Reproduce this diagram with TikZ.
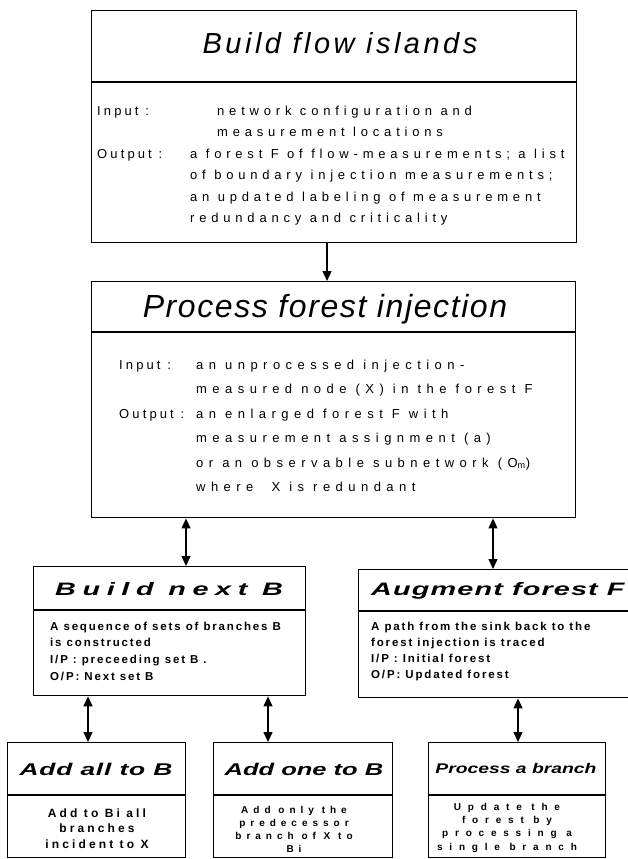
\documentclass[tikz,border=0pt]{standalone}
\usepackage{fontspec}
\usepackage{graphicx}
\setmainfont{Liberation Sans}
\usetikzlibrary{arrows.meta,positioning}
\newcommand{\fs}[3]{\fontsize{#1}{#1}\selectfont#2\addfontfeatures{LetterSpace=#3}}
\tikzset{
  box/.style={draw,line width=1.4pt,inner sep=0pt,anchor=north west},
  rule/.style={line width=1.4pt},
  ttl/.style={anchor=base,inner sep=0pt},
  ln/.style={anchor=base west,inner sep=0pt},
  lnc/.style={anchor=base,inner sep=0pt},
  link/.style={line width=1.3pt,-{Triangle[length=10pt,width=9pt]}},
  dlink/.style={line width=1.3pt,{Triangle[length=10pt,width=9pt]}-{Triangle[length=10pt,width=9pt]}},
}
\begin{document}
\begin{tikzpicture}[x=1pt,y=-1pt]
\useasboundingbox (0,0) rectangle (627,859);
\node[box,minimum width=485pt,minimum height=232pt] (islands) at (91,10) {};
\node[box,minimum width=484pt,minimum height=236pt] (process) at (91,281) {};
\node[box,minimum width=272pt,minimum height=129pt] (next) at (33,566) {};
\node[box,minimum width=274pt,minimum height=128pt] (augment) at (358,569) {};
\node[box,minimum width=178pt,minimum height=115pt] (addall) at (7,742) {};
\node[box,minimum width=179pt,minimum height=115pt] (addone) at (213,742) {};
\node[box,minimum width=177pt,minimum height=115pt] (branch) at (428,742) {};
\coordinate (d1) at (0,82);
\coordinate (d2) at (0,332);
\coordinate (d3) at (0,610);
\coordinate (d4) at (0,611);
\coordinate (d5) at (0,795);
\draw[rule] (islands.west |- d1) -- (islands.east |- d1);
\draw[rule] (process.west |- d2) -- (process.east |- d2);
\draw[rule] (next.west |- d3) -- (next.east |- d3);
\draw[rule] (augment.west |- d4) -- (augment.east |- d4);
\foreach \b in {addall,addone,branch}
  \draw[rule] (\b.west |- d5) -- (\b.east |- d5);
% titles
\node[ttl,font=\fs{29}{\itshape}{12}] (t-islands) at (340,53) {Build flow islands};
\node[ttl,font=\fs{32}{\itshape}{5}] (t-process) at (325,317) {Process forest injection};
\node[ttl,font=\fs{18}{\bfseries\itshape}{23}] (t-next) at (169,595) {\scalebox{1.6}[1]{Build next B}};
\node[ln,font=\fs{18}{\bfseries\itshape}{4}] (t-augment) at (371,595) {\scalebox{1.6}[1]{Augment forest F}};
\node[ttl,font=\fs{17}{\bfseries\itshape}{3}] (t-addall) at (96,775) {\scalebox{1.55}[1]{Add all to B}};
\node[ttl,font=\fs{17}{\bfseries\itshape}{0}] (t-addone) at (304,775) {\scalebox{1.5}[1]{Add one to B}};
\node[ttl,font=\fs{14}{\bfseries\itshape}{0}] (t-branch) at (516,773) {\scalebox{1.38}[1]{Process a branch}};
% top boxes
\node[ln,font=\fs{13}{}{24}] (k-in1) at (97,115) {Input :};
\node[ln,font=\fs{13}{}{24}] (k-out1) at (97,158) {Output :};
\foreach \t [count=\i from 0] in {network configuration and,measurement locations}
  \node[ln,font=\fs{13}{}{37}] (in1-\i) at (217,{115+21.6*\i}) {\t};
\foreach \t [count=\i from 0] in {a forest F of flow-measurements; a list,of boundary injection measurements;,an updated labeling of measurement,redundancy and criticality}
  \node[ln,font=\fs{13}{}{37}] (out1-\i) at (190,{158+21.6*\i}) {\t};
\node[ln,font=\fs{13}{}{24}] (k-in2) at (119,369) {Input :};
\node[ln,font=\fs{13}{}{24}] (k-out2) at (119,418) {Output :};
\foreach \t [count=\i from 0] in {an unprocessed injection-,measured node (X) in the forest F,an enlarged forest F with,measurement assignment (a),or an observable subnetwork (O\textsubscript{m}),where~ X is redundant}
  \node[ln,font=\fs{13}{}{42}] (out2-\i) at (196,{369+24.5*\i}) {\t};
% middle boxes
\foreach \t [count=\i from 0] in {A sequence of sets of branches B,is constructed,I/P : preceeding set B .,O/P: Next set B}
  \node[ln,font=\fs{11.5}{\bfseries}{16}] (b-next-\i) at (50,{630+16.7*\i}) {\t};
\foreach \t [count=\i from 0] in {A path from the sink back to the,forest injection is traced,I/P : Initial forest,O/P: Updated forest}
  \node[ln,font=\fs{11.5}{\bfseries}{16}] (b-aug-\i) at (371,{630+16*\i}) {\t};
% bottom boxes
\foreach \t [count=\i from 0] in {Add to Bi all,branches,incident to X}
  \node[lnc,font=\fs{12}{\bfseries}{26}] (b-all-\i) at (97,{817+15.5*\i}) {\t};
\foreach \t [count=\i from 0] in {Add only the,predecessor,branch of X to,Bi}
  \node[lnc,font=\fs{10}{\bfseries}{50}] (b-one-\i) at (294,{813+13*\i}) {\t};
\foreach \t [count=\i from 0] in {Update the,forest by,processing a,single branch}
  \node[lnc,font=\fs{10}{\bfseries}{68}] (b-br-\i) at (507,{810+13.4*\i}) {\t};
% connectors
\coordinate (a0) at (327,0);
\coordinate (a1) at (186,0);
\coordinate (a2) at (493,0);
\coordinate (a3) at (88,0);
\coordinate (a4) at (268,0);
\coordinate (a5) at (518,0);
\draw[link] (islands.south -| a0) -- (process.north -| a0);
\draw[dlink] (process.south -| a1) -- (next.north -| a1);
\draw[dlink] (process.south -| a2) -- (augment.north -| a2);
\draw[dlink] (next.south -| a3) -- (addall.north -| a3);
\draw[dlink] (next.south -| a4) -- (addone.north -| a4);
\draw[dlink] (augment.south -| a5) -- (branch.north -| a5);
\end{tikzpicture}
\end{document}
